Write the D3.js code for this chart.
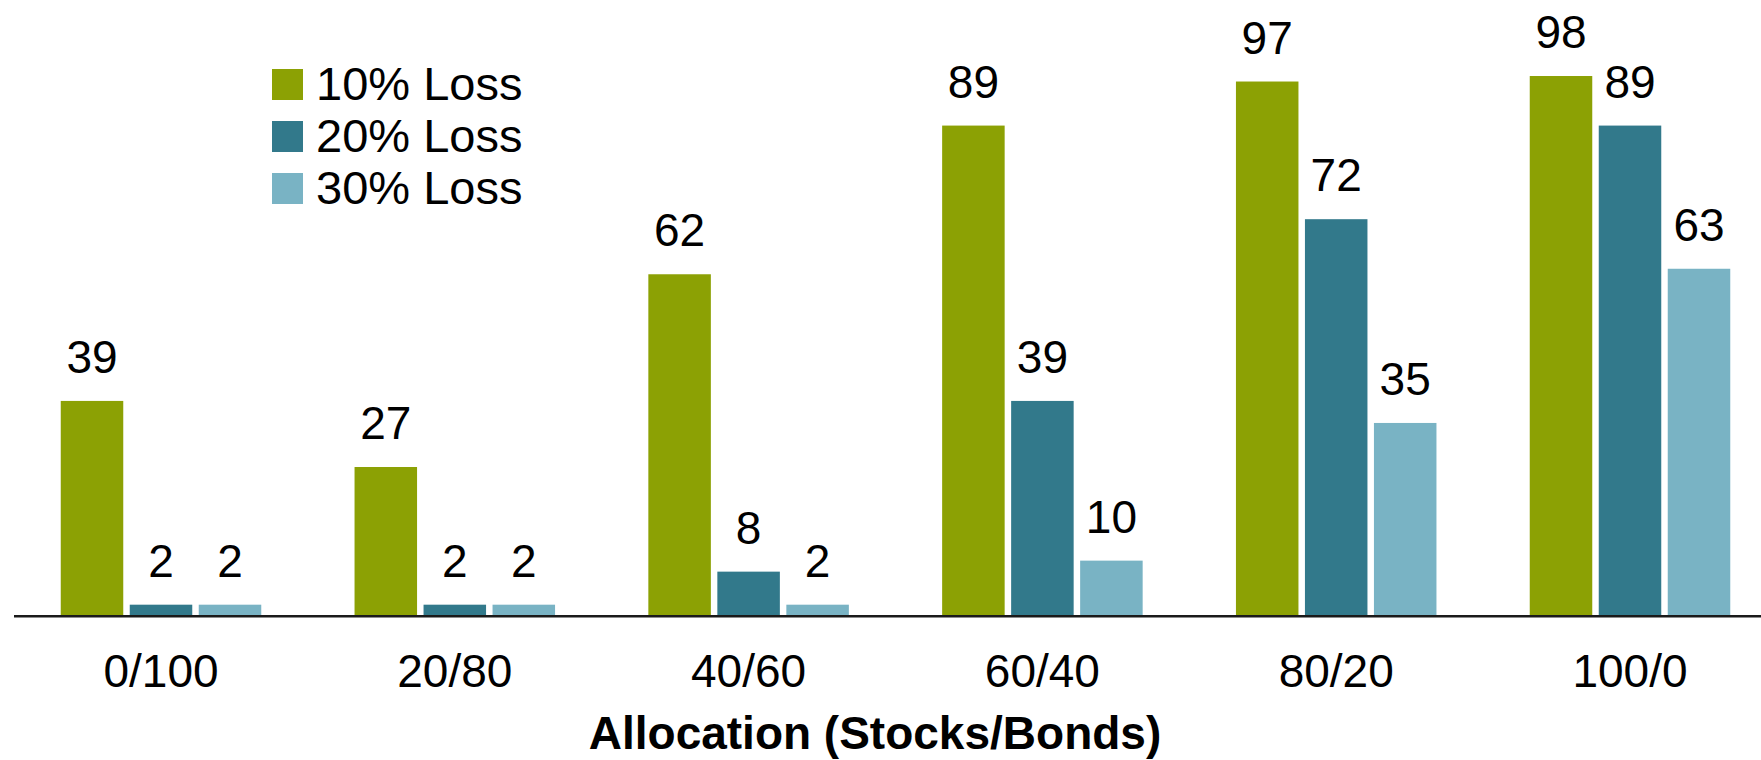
<!DOCTYPE html>
<html>
<head>
<meta charset="utf-8">
<script src="https://cdn.jsdelivr.net/npm/d3@7"></script>
<style>
  html, body { margin: 0; padding: 0; background: #ffffff; }
  svg { display: block; font-family: "Liberation Sans", Arial, Helvetica, sans-serif; }
</style>
</head>
<body>
<svg id="chart" width="1761" height="760"></svg>
<script>
// Allocation categories (stocks/bonds) and loss-threshold series
const categories = ["0/100", "20/80", "40/60", "60/40", "80/20", "100/0"];
const seriesNames = ["10% Loss", "20% Loss", "30% Loss"];
const loss10 = [39, 27, 62, 89, 97, 98];
const loss20 = [2, 2, 8, 39, 72, 89];
const loss30 = [2, 2, 2, 10, 35, 63];
const seriesColors = ["#8ca104", "#32798b", "#79b3c4"];
const xAxisTitle = "Allocation (Stocks/Bonds)";

const seriesValues = [loss10, loss20, loss30];
const rows = categories.map((c, i) => ({
  category: c,
  values: seriesNames.map((s, j) => ({ series: s, value: seriesValues[j][i] }))
}));

const svg = d3.select("#chart");

// Scales
const x0 = d3.scaleBand()
  .domain(categories)
  .range([14.1, 1776.9])
  .padding(0);

const x1 = d3.scaleBand()
  .domain(seriesNames)
  .range([0, x0.bandwidth()])
  .paddingInner(0.094)
  .paddingOuter(0.676);

const y = d3.scaleLinear()
  .domain([0, 100])
  .range([615.7, 65]);

const color = d3.scaleOrdinal().domain(seriesNames).range(seriesColors);

// Bars and value labels
const groups = svg.append("g").selectAll("g")
  .data(rows)
  .join("g")
  .attr("transform", d => `translate(${x0(d.category)},0)`);

groups.selectAll("rect")
  .data(d => d.values)
  .join("rect")
  .attr("x", d => x1(d.series))
  .attr("y", d => y(d.value))
  .attr("width", x1.bandwidth())
  .attr("height", d => y(0) - y(d.value))
  .attr("fill", d => color(d.series));

groups.selectAll("text")
  .data(d => d.values)
  .join("text")
  .attr("x", d => x1(d.series) + x1.bandwidth() / 2)
  .attr("y", d => y(d.value) - 28)
  .attr("text-anchor", "middle")
  .attr("font-size", 46)
  .attr("fill", "#000")
  .text(d => d.value);

// X axis: baseline line and category labels
const xAxis = d3.axisBottom(x0).tickSize(0).tickPadding(0);
const axisG = svg.append("g")
  .attr("transform", `translate(0,${y(0)})`)
  .call(xAxis);
axisG.select(".domain").remove();
axisG.selectAll(".tick text")
  .attr("font-size", 46)
  .attr("font-family", "'Liberation Sans', Arial, sans-serif")
  .attr("fill", "#000")
  .attr("dy", null)
  .attr("y", 71);

svg.append("line")
  .attr("x1", 14)
  .attr("x2", 1761)
  .attr("y1", 616.3)
  .attr("y2", 616.3)
  .attr("stroke", "#1a1a1a")
  .attr("stroke-width", 2.4);

// Axis title
svg.append("text")
  .attr("x", 875)
  .attr("y", 749)
  .attr("text-anchor", "middle")
  .attr("font-size", 46)
  .attr("font-weight", "bold")
  .attr("fill", "#000")
  .text(xAxisTitle);

// Legend
const legend = svg.append("g")
  .selectAll("g")
  .data(seriesNames)
  .join("g")
  .attr("transform", (d, i) => `translate(272,${69 + i * 52})`);

legend.append("rect")
  .attr("width", 31)
  .attr("height", 31)
  .attr("fill", d => color(d));

legend.append("text")
  .attr("x", 44)
  .attr("y", 31)
  .attr("font-size", 47)
  .attr("fill", "#000")
  .text(d => d);
</script>
</body>
</html>
